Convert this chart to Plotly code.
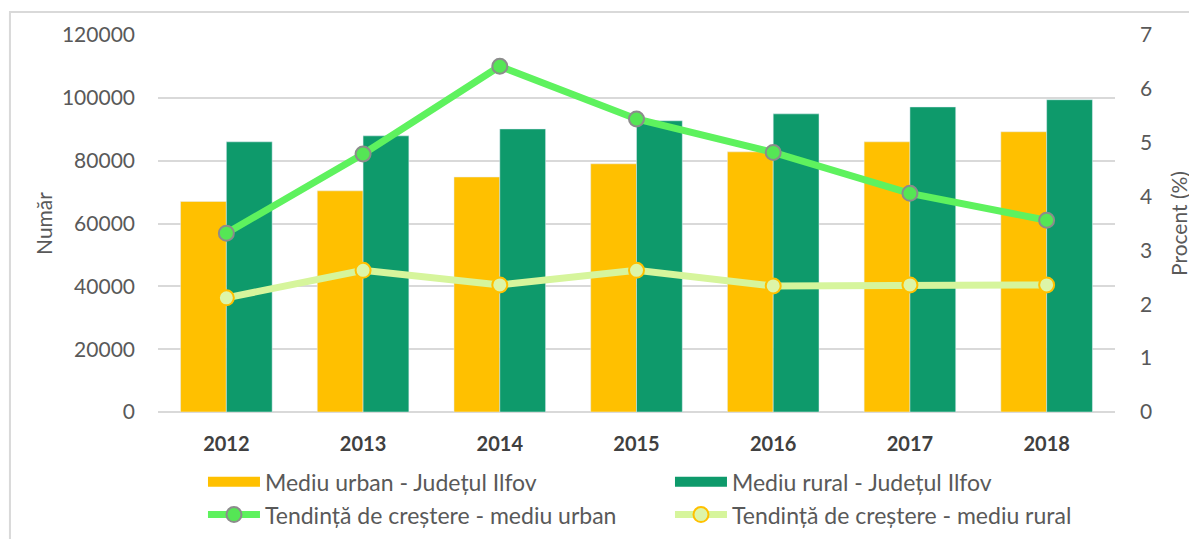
import plotly.graph_objects as go

years = ["2012", "2013", "2014", "2015", "2016", "2017", "2018"]
urban_count = [67000, 70400, 74800, 79000, 82800, 86000, 89200]
rural_count = [86000, 87900, 90100, 92700, 94900, 97100, 99400]
urban_trend = [3.32, 4.79, 6.42, 5.44, 4.82, 4.06, 3.56]
rural_trend = [2.12, 2.63, 2.36, 2.63, 2.34, 2.36, 2.36]

name_urban_bar = "Mediu urban - Județul Ilfov"
name_rural_bar = "Mediu rural - Județul Ilfov"
name_urban_line = "Tendință de creștere - mediu urban"
name_rural_line = "Tendință de creștere - mediu rural"

C_URBAN = "#FFC000"
C_RURAL = "#0E9A6B"
C_ULINE = "#5EF25E"
C_RLINE = "#D6F59C"
FONT = "Lato"
TXT = "#595959"

fig = go.Figure()

fig.add_trace(go.Bar(x=years, y=urban_count, name=name_urban_bar, marker_color=C_URBAN,
                     showlegend=False, legendgroup="u", yaxis="y"))
fig.add_trace(go.Bar(x=years, y=rural_count, name=name_rural_bar, marker_color=C_RURAL,
                     showlegend=False, legendgroup="r", yaxis="y"))

# legend-only entries for bars (wide rectangle symbols)
fig.add_trace(go.Scatter(x=[None], y=[None], mode="lines", name=name_urban_bar,
                         line=dict(color=C_URBAN, width=13), legendgroup="u"))
fig.add_trace(go.Scatter(x=[None], y=[None], mode="lines", name=name_rural_bar,
                         line=dict(color=C_RURAL, width=13), legendgroup="r"))

fig.add_trace(go.Scatter(x=years, y=urban_trend, name=name_urban_line, mode="lines+markers",
                         line=dict(color=C_ULINE, width=7),
                         marker=dict(size=15, color="#55E655", line=dict(color="#8C8C8C", width=2)),
                         yaxis="y2"))
fig.add_trace(go.Scatter(x=years, y=rural_trend, name=name_rural_line, mode="lines+markers",
                         line=dict(color=C_RLINE, width=7),
                         marker=dict(size=15, color="#DDF5A8", line=dict(color="#FFC000", width=2)),
                         yaxis="y2"))

fig.update_layout(
    width=1189, height=531,
    margin=dict(l=150, r=82, t=27, b=127, autoexpand=False),
    paper_bgcolor="white", plot_bgcolor="white",
    font=dict(family=FONT, size=21, color=TXT),
    barmode="group", bargap=0.33, bargroupgap=0,
    showlegend=True,
    legend=dict(orientation="h", x=0.047, xanchor="left", y=-0.128, yanchor="top",
                entrywidth=400, itemwidth=52, font=dict(family=FONT, size=23, color=TXT),
                traceorder="normal", bgcolor="rgba(0,0,0,0)", tracegroupgap=0),
    xaxis=dict(type="category", showgrid=False, showline=False, ticks="",
               tickfont=dict(family=FONT, size=20, color="#404040", weight="bold"),
               ticklabelstandoff=18),
    yaxis=dict(range=[0, 120000], dtick=20000, showgrid=True, gridcolor="#D9D9D9", gridwidth=2,
               zeroline=True, zerolinecolor="#D9D9D9", zerolinewidth=2,
               tickformat="d", ticks="", ticklabelstandoff=22,
               title=dict(text="Număr", font=dict(family=FONT, size=21, color=TXT), standoff=3)),
    yaxis2=dict(range=[0, 7], dtick=1, overlaying="y", side="right", showgrid=False,
                zeroline=False, ticks="", ticklabelstandoff=24,
                title=dict(text="Procent (%)", font=dict(family=FONT, size=21, color=TXT), standoff=21)),
    shapes=[dict(type="rect", xref="paper", yref="paper", x0=-0.1547, x1=1.1, y0=-0.36, y1=1.061,
                 line=dict(color="#D9D9D9", width=2), fillcolor="rgba(0,0,0,0)", layer="below")],
)

fig.write_html("out.html")
